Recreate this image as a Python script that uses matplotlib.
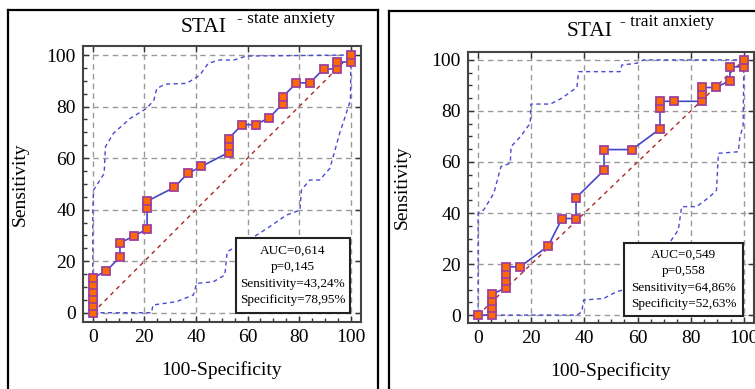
import matplotlib
matplotlib.use("Agg")
import matplotlib.pyplot as plt
from matplotlib.patches import Rectangle
from matplotlib.lines import Line2D
from matplotlib.ticker import MultipleLocator

plt.rcParams['font.family'] = ['Liberation Serif', 'DejaVu Serif']

# ---------------- data: STAI state anxiety ----------------
state_fpr = [0, 0, 0, 0, 0, 0, 5.26, 10.53, 10.53, 15.79, 21.05, 21.05, 21.05,
             31.58, 36.84, 42.11, 52.63, 52.63, 52.63, 57.89, 63.16, 68.42,
             73.68, 73.68, 78.95, 84.21, 89.47, 94.74, 94.74, 100, 100]
state_tpr = [0, 2.7, 5.41, 8.11, 10.81, 13.51, 16.22, 21.62, 27.03, 29.73, 32.43,
             40.54, 43.24, 48.65, 54.05, 56.76, 62.16, 64.86, 67.57, 72.97,
             72.97, 75.68, 81.08, 83.78, 89.19, 89.19, 94.59, 94.59, 97.3, 97.3, 100]
state_up_x = [0, 0, 0.3, 4.4, 4.9, 8.0, 14.5, 20.9, 23.7, 24.8, 28.0, 36.4, 41.5,
              44.8, 49.3, 54.5, 59.6, 100]
state_up_y = [0, 40, 47.6, 54.0, 64.4, 69.6, 75.4, 79.3, 82.5, 87.0, 88.7, 89.0,
              92.2, 96.8, 98.1, 98.0, 99.6, 100]
state_lo_x = [0, 22.8, 23.3, 32.5, 39.0, 40.3, 46.7, 51.2, 52.1, 57.0, 63.5, 68.6,
              75.1, 80.3, 80.9, 84.1, 88.0, 91.9, 93.2, 95.7, 98.3, 99.9, 100, 100]
state_lo_y = [0, 0, 3.0, 4.3, 6.9, 11.4, 12.0, 14.6, 23.7, 26.3, 30.1, 33.4, 37.9,
              39.8, 47.6, 51.5, 51.5, 56.0, 60.5, 69.6, 77.4, 82.5, 90, 100]
state_stats = ["AUC=0,614", "p=0,145", "Sensitivity=43,24%", "Specificity=78,95%"]

# ---------------- data: STAI trait anxiety ----------------
trait_fpr = [0, 5.26, 5.26, 5.26, 5.26, 10.53, 10.53, 10.53, 10.53, 15.79, 26.32,
             31.58, 36.84, 36.84, 47.37, 47.37, 57.89, 68.42, 68.42, 68.42, 73.68,
             84.21, 84.21, 84.21, 89.47, 94.74, 94.74, 100, 100]
trait_tpr = [0, 0, 2.7, 5.41, 8.11, 10.81, 13.51, 16.22, 18.92, 18.92, 27.03,
             37.84, 37.84, 45.95, 56.76, 64.86, 64.86, 72.97, 81.08, 83.78, 83.78,
             83.78, 86.49, 89.19, 89.19, 91.89, 97.3, 97.3, 100]
trait_up_x = [0, 0, 2.1, 5.9, 8.6, 12.1, 12.4, 15.9, 19.6, 19.9, 27.2, 31.5, 37.2,
              37.8, 43.4, 53.4, 54.1, 59.7, 62.2, 100]
trait_up_y = [0, 39.9, 41.2, 47.7, 58.2, 59.5, 66.0, 69.9, 75.2, 82.7, 82.7, 85.0,
              89.3, 95.4, 95.4, 95.4, 98.0, 98.7, 100, 100]
trait_lo_x = [0, 37.2, 39.0, 39.7, 47.2, 52.2, 57.2, 62.2, 67.2, 71.0, 75.3, 76.6,
              82.2, 87.2, 89.7, 90.4, 97.9, 98.5, 99.7, 100]
trait_lo_y = [0, 0, 1.3, 5.9, 6.5, 9.2, 10.5, 13.7, 19.0, 26.8, 33.3, 42.5, 42.5,
              46.4, 49.0, 63.4, 64.0, 70.0, 73.9, 100]
trait_stats = ["AUC=0,549", "p=0,558", "Sensitivity=64,86%", "Specificity=52,63%"]

diag = [0, 100]
ticks = [0, 20, 40, 60, 80, 100]

W, H = 755, 389
fig = plt.figure(figsize=(W / 100, H / 100), dpi=100)


def px_rect(x0, y0, x1, y1):
    return [x0 / W, 1 - y1 / H, (x1 - x0) / W, (y1 - y0) / H]


def panel(rect, xlim, ylim, fpr, tpr, upx, upy, lox, loy, stats, box, ylpad):
    ax = fig.add_axes(rect)
    ax.set_xlim(*xlim)
    ax.set_ylim(*ylim)
    ax.set_xticks(ticks)
    ax.set_yticks(ticks)
    ax.xaxis.set_minor_locator(MultipleLocator(5))
    ax.yaxis.set_minor_locator(MultipleLocator(5))
    ax.tick_params(which='major', direction='in', length=4, width=1,
                   top=True, right=True, labelsize=14, pad=5, colors='#333333',
                   labelcolor='black')
    ax.tick_params(which='minor', direction='in', length=3, width=1,
                   top=False, right=False, colors='#333333')
    ax.grid(True, which='major', color='#9a9a9a', linestyle=(0, (4, 3)), lw=1)
    for s in ax.spines.values():
        s.set_color('#444444')
        s.set_linewidth(1.5)
    ax.plot(diag, diag, color='#a82828', lw=1, linestyle=(0, (3, 3)), zorder=2)
    ax.plot(upx, upy, color='#4a4ad0', lw=1, linestyle=(0, (3, 2.5)), zorder=2)
    ax.plot(lox, loy, color='#4a4ad0', lw=1, linestyle=(0, (3, 2.5)), zorder=2)
    ax.plot(fpr, tpr, color='#4545c8', lw=1.2, marker='s', markersize=6,
            markerfacecolor='#ff6a00', markeredgecolor='#a0409a',
            markeredgewidth=1.3, zorder=4)
    ax.set_ylabel("Sensitivity", fontsize=14, labelpad=ylpad)
    ax.set_xlabel("100-Specificity", fontsize=14, labelpad=11)
    bx0, by0, bx1, by1 = box
    ax.add_patch(Rectangle((bx0, by0), bx1 - bx0, by1 - by0, transform=ax.transAxes,
                           facecolor='white', edgecolor='#222222', lw=1.5, zorder=6))
    n = len(stats)
    for i, s in enumerate(stats):
        yy = by1 - (by1 - by0) * (i + 0.75) / (n + 0.5)
        ax.text((bx0 + bx1) / 2, yy, s, transform=ax.transAxes, ha='center',
                va='center', fontsize=9.5, zorder=7)
    return ax


axL = panel(px_rect(83, 46, 361, 322), (-3.8, 104), (-3.6, 103.5),
            state_fpr, state_tpr, state_up_x, state_up_y, state_lo_x, state_lo_y,
            state_stats, (0.550, 0.033, 0.960, 0.304), 13)
axR = panel(px_rect(468, 52, 754, 323), (-3.8, 103.8), (-3.1, 103.1),
            trait_fpr, trait_tpr, trait_up_x, trait_up_y, trait_lo_x, trait_lo_y,
            trait_stats, (0.545, 0.026, 0.962, 0.295), 15)

# titles
fig.text(204 / W, 1 - 27 / H, "STAI", fontsize=15.5, ha='center', va='center')
fig.text(237 / W, 1 - 19 / H, "- state anxiety", fontsize=12.5, ha='left', va='center')
fig.text(590 / W, 1 - 31 / H, "STAI", fontsize=15.5, ha='center', va='center')
fig.text(620 / W, 1 - 22 / H, "- trait anxiety", fontsize=12.5, ha='left', va='center')

# outer panel frames
def fline(x0, y0, x1, y1):
    fig.add_artist(Line2D([x0 / W, x1 / W], [1 - y0 / H, 1 - y1 / H],
                          transform=fig.transFigure, color='black', lw=1.6))

fline(8, 10, 378, 10)
fline(8, 10, 8, 390)
fline(378, 10, 378, 390)
fline(389, 11, 756, 11)
fline(389, 11, 389, 390)

fig.savefig("out.png", dpi=100)
